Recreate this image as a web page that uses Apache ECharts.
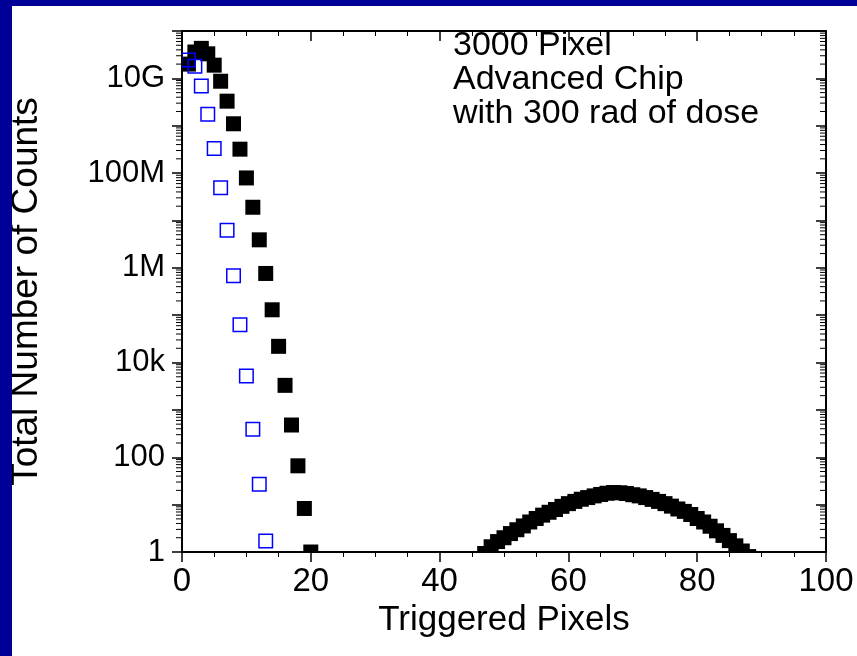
<!DOCTYPE html>
<html>
<head>
<meta charset="utf-8">
<script src="https://cdn.jsdelivr.net/npm/echarts@6/dist/echarts.min.js"></script>
<style>
html,body{margin:0;padding:0;background:#fff;}
#chart{width:857px;height:656px;}
</style>
</head>
<body>
<div id="chart"></div>
<script>
// ---- data ----
const blackX = [1,2,3,4,5,6,7,8,9,10,11,12,13,14,15,16,17,18,19,20,
  47,48,49,50,51,52,53,54,55,56,57,58,59,60,61,62,63,64,65,66,67,
  68,69,70,71,72,73,74,75,76,77,78,79,80,81,82,83,84,85,86,87,88];
const blackY = [2.0e10,3.6e10,4.3e10,3.3e10,1.9e10,8.7e9,3.3e9,1.1e9,3.2e8,7.9e7,1.9e7,3.9e6,7.6e5,1.3e5,2.2e4,3300,480,66,8.3,1.0,
  0.93,1.29,1.66,2.0,2.45,2.95,3.55,4.3,5.1,6.0,6.9,7.9,9.2,10.5,11.7,13.0,14.1,15.3,16.4,17.4,18.0,
  17.8,17.2,16.2,15.3,14.1,12.9,11.7,10.5,9.3,8.1,7.2,6.2,5.1,4.3,3.5,2.8,2.24,1.74,1.35,1.05,0.8];
const blueX = [1,2,3,4,5,6,7,8,9,10,11,12,13];
const blueY = [2.45e10,1.8e10,6.9e9,1.74e9,3.3e8,4.9e7,6.2e6,6.8e5,6.3e4,5.2e3,390,27,1.7];

const xTickLabels = ['0','20','40','60','80','100'];
const yTickLabelsByExponent = {0:'1',2:'100',4:'10k',6:'1M',8:'100M',10:'10G'};
const yDecades = [1,10,100,1e3,1e4,1e5,1e6,1e7,1e8,1e9,1e10];
const minorMultipliers = [2,3,4,5,6,7,8,9];
const annotationLines = ['3000 Pixel','Advanced Chip','with 300 rad of dose'];
const xTitle = 'Triggered Pixels';
const yTitle = 'Total Number of Counts';

// ---- chart ----
const FONT = 'Liberation Sans, Arial, sans-serif';
const XTICK_FS = 33;
const YTICK_FS = 31;
const XTITLE_FS = 35;
const YTITLE_FS = 37;
const NOTE_FS = 34;
const SQ = 15;
const chart = echarts.init(document.getElementById('chart'), null, {renderer:'canvas'});

const blackData = blackX.map((x,i)=>[x, blackY[i]]);
const blueData = blueX.map((x,i)=>[x, blueY[i]]);
const minorData = [];
yDecades.forEach(d => minorMultipliers.forEach(m => minorData.push([0, d*m])));

function squareRenderer(fill, stroke, lw){
  return function(params, api){
    const p = api.coord([api.value(0), api.value(1)]);
    const s = SQ - lw;
    return {type:'rect', shape:{x:p[0]-s/2, y:p[1]-s/2, width:s, height:s},
      style:{fill:fill, stroke:stroke, lineWidth:lw}};
  };
}

function minorTickRenderer(params, api){
  const v = api.value(1);
  const pl = api.coord([0, v]);
  const pr = api.coord([100, v]);
  const len = 6;
  return {type:'group', children:[
    {type:'line', shape:{x1:pl[0]-len, y1:pl[1], x2:pl[0], y2:pl[1]}, style:{stroke:'#000', lineWidth:1}},
    {type:'line', shape:{x1:pr[0]-len, y1:pr[1], x2:pr[0], y2:pr[1]}, style:{stroke:'#000', lineWidth:1}}
  ]};
}

const axisLineStyle = {color:'#000', width:2};
const xBase = {type:'value', min:0, max:100, interval:20,
  axisLine:{show:true, onZero:false, lineStyle:axisLineStyle},
  axisTick:{show:true, length:10, lineStyle:{color:'#000', width:1.5}},
  minorTick:{show:true, splitNumber:4, length:5, lineStyle:{color:'#000', width:1}},
  splitLine:{show:false}, minorSplitLine:{show:false}};
const yBase = {type:'log', logBase:10, min:1, max:1e11, interval:1,
  axisLine:{show:true, onZero:false, lineStyle:axisLineStyle},
  axisTick:{show:true, length:10, lineStyle:{color:'#000', width:1.5}},
  splitLine:{show:false}};

const option = {
  backgroundColor:'#ffffff',
  animation:false,
  grid:{left:179, right:31, top:31, bottom:104, containLabel:false},
  xAxis:[
    Object.assign({}, xBase, {position:'bottom',
      name:xTitle, nameLocation:'middle', nameGap:42,
      nameTextStyle:{fontFamily:FONT, fontSize:XTITLE_FS, color:'#000'},
      axisLabel:{show:true, margin:13, fontFamily:FONT, fontSize:XTICK_FS, color:'#000',
        formatter:(v)=>{const i=Math.round(v/20); return xTickLabels[i] ?? '';}}}),
    Object.assign({}, xBase, {position:'top', axisTick:{show:true, inside:true, length:10, lineStyle:{color:'#000', width:1.5}},
      minorTick:{show:true, splitNumber:4, length:5, lineStyle:{color:'#000', width:1}},
      axisLabel:{show:false}})
  ],
  yAxis:[
    Object.assign({}, yBase, {position:'left',
      name:yTitle, nameLocation:'middle', nameGap:137, nameRotate:90,
      nameTextStyle:{fontFamily:FONT, fontSize:YTITLE_FS, color:'#000'},
      axisLabel:{show:true, margin:17, fontFamily:FONT, fontSize:YTICK_FS, color:'#000',
        formatter:(v)=>{const e=Math.round(Math.log10(v)); return yTickLabelsByExponent[e] ?? '';}}}),
    Object.assign({}, yBase, {position:'right', axisTick:{show:true, inside:true, length:10, lineStyle:{color:'#000', width:1.5}},
      axisLabel:{show:false}})
  ],
  series:[
    {type:'custom', name:'minor', xAxisIndex:0, yAxisIndex:0, clip:false, silent:true,
      renderItem:minorTickRenderer, data:minorData, z:1},
    {type:'custom', name:'Series A', xAxisIndex:0, yAxisIndex:0, clip:true,
      renderItem:squareRenderer('#000000', null, 0), data:blackData, z:2},
    {type:'custom', name:'Series B', xAxisIndex:0, yAxisIndex:0, clip:true,
      renderItem:squareRenderer('none', '#0000ff', 1.5), data:blueData, z:3}
  ],
  graphic:[
    {type:'rect', left:0, top:0, shape:{width:12, height:656}, style:{fill:'#000099'}, z:100},
    {type:'rect', left:0, top:0, shape:{width:857, height:6}, style:{fill:'#000099'}, z:100},
    {type:'group', left:453, top:29, children: annotationLines.map((t,i)=>({
      type:'text', left:0, top:i*34, style:{text:t, font:NOTE_FS + 'px ' + FONT, fill:'#000'}}))}
  ]
};
chart.setOption(option);
</script>
</body>
</html>
